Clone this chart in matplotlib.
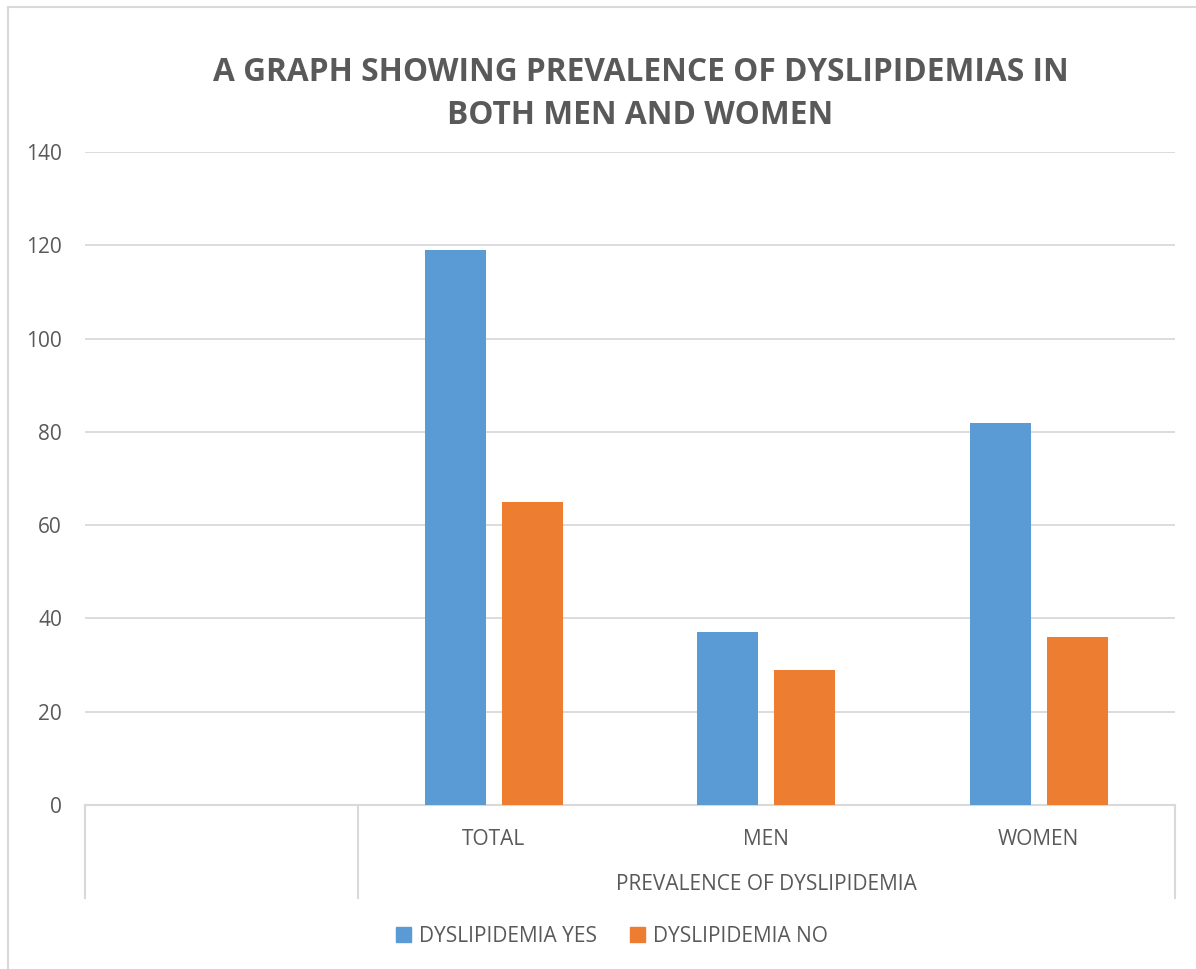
import numpy as np
import matplotlib
matplotlib.use("Agg")
import matplotlib.pyplot as plt
from matplotlib.patches import Patch
from matplotlib.lines import Line2D

# data
categories = ["", "TOTAL", "MEN", "WOMEN"]
group_label = "PREVALENCE OF DYSLIPIDEMIA"
dyslipidemia_yes = [np.nan, 119, 37, 82]
dyslipidemia_no = [np.nan, 65, 29, 36]
series_names = ["DYSLIPIDEMIA YES", "DYSLIPIDEMIA NO"]
y_ticks = [0, 20, 40, 60, 80, 100, 120, 140]

blue = "#5B9BD5"
orange = "#ED7D31"
text_col = "#595959"
grid_col = "#D9D9D9"

plt.rcParams["font.family"] = ["Open Sans", "DejaVu Sans"]

W, H = 1196, 969
fig = plt.figure(figsize=(W / 100, H / 100), dpi=100)

# chart frame (left and top edges)
fig.add_artist(Line2D([8 / W, 8 / W], [0, 1 - 7 / H], color=grid_col, lw=1.5))
fig.add_artist(Line2D([8 / W, 1], [1 - 7 / H, 1 - 7 / H], color=grid_col, lw=1.5))

x0, x1, y0, y1 = 85, 1175, 805, 152
ax = fig.add_axes([x0 / W, 1 - y0 / H, (x1 - x0) / W, (y0 - y1) / H])

x = np.arange(len(categories))
bw = 0.224
off = 0.142
ax.bar(x - off, dyslipidemia_yes, bw, color=blue, label=series_names[0], zorder=3)
ax.bar(x + off, dyslipidemia_no, bw, color=orange, label=series_names[1], zorder=3)

fs = 15
ax.set_xlim(-0.5, len(categories) - 0.5)
ax.set_ylim(0, 140)
ax.set_yticks(y_ticks)
ax.yaxis.grid(True, color=grid_col, lw=1.3, zorder=0)
for s in ["top", "right", "left"]:
    ax.spines[s].set_visible(False)
ax.spines["bottom"].set_color(grid_col)
ax.spines["bottom"].set_linewidth(1.5)
ax.tick_params(axis="y", length=0, pad=16.5, labelsize=fs, labelcolor=text_col)
ax.tick_params(axis="x", length=0, pad=17, labelsize=fs, labelcolor=text_col)
ax.set_xticks(x)
ax.set_xticklabels(categories)

# multi-level category axis dividers
drop = (898 - y0) / (y0 - y1)
trans = ax.get_xaxis_transform()
for xv in [-0.5, 0.5, len(categories) - 0.5]:
    ax.plot([xv, xv], [0, -drop], color=grid_col, lw=1.5, transform=trans, clip_on=False)
ax.text((0.5 + len(categories) - 0.5) / 2, -(884 - y0) / (y0 - y1), group_label,
        transform=trans, ha="center", va="center", fontsize=fs, color=text_col)

fig.text(0.5 * (213 + 1068) / W, 1 - 94 / H,
         "A GRAPH SHOWING PREVALENCE OF DYSLIPIDEMIAS IN\nBOTH MEN AND WOMEN",
         ha="center", va="center", fontsize=22.8, fontweight="bold",
         color=text_col, linespacing=1.4)

handles = [Patch(color=blue), Patch(color=orange)]
fig.legend(handles, series_names, loc="center", bbox_to_anchor=(612 / W, 1 - 936 / H),
           ncol=2, frameon=False, fontsize=fs, labelcolor=text_col,
           handlelength=0.7, handleheight=0.7, handletextpad=0.4, columnspacing=1.6)

fig.savefig("out.png", dpi=100)
